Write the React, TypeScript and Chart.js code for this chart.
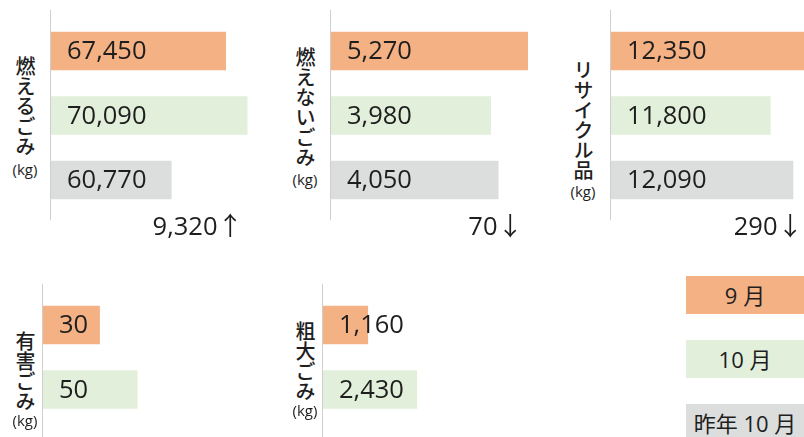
import React, { useEffect, useRef } from "react";
import { Chart, registerables } from "chart.js";

Chart.register(...registerables);

// ---------- data ----------
const seriesNames = ["9 月", "10 月", "昨年 10 月"];
const categoryNames = ["燃えるごみ", "燃えないごみ", "リサイクル品", "有害ごみ", "粗大ごみ"];
const unitLabel = "(kg)";
const septValues: (number | null)[] = [67450, 5270, 12350, 30, 1160];
const octValues: (number | null)[] = [70090, 3980, 11800, 50, 2430];
const lastOctValues: (number | null)[] = [60770, 4050, 12090, null, null];

// ---------- styles ----------
const seriesColors = ["#F4B183", "#E2EFDA", "#DCDDDD"];
const textColor = "#1e1e1e";
const axisColor = "#cfcfcf";
const numFont = "'Open Sans', 'Noto Sans CJK JP', sans-serif";
const jpFont = "'Noto Sans CJK JP', sans-serif";

type Panel = {
  left: number; top: number; width: number; height: number;
  min: number; max: number;
  labelX: number; labelTop: number; kgY: number;
};

const panels: Panel[] = [
  { left: 50, top: 0, width: 216, height: 245, min: 46000, max: 72400, labelX: 25, labelTop: 56, kgY: 169 },
  { left: 330, top: 0, width: 198, height: 245, min: 2510, max: 4324, labelX: 305, labelTop: 47, kgY: 179 },
  { left: 610, top: 0, width: 194, height: 245, min: 9765, max: 12230, labelX: 583, labelTop: 60, kgY: 191 },
  { left: 42, top: 274, width: 231, height: 245, min: 0, max: 122, labelX: 25, labelTop: 331, kgY: 420 },
  { left: 322, top: 274, width: 231, height: 245, min: 0, max: 5960, labelX: 305, labelTop: 321, kgY: 410 },
];

const fmt = (v: number) => v.toLocaleString("en-US");

const panelPlugin = {
  id: "panelDecor",
  beforeDatasetsDraw(chart: any) {
    const { ctx, chartArea } = chart;
    ctx.save();
    ctx.strokeStyle = axisColor;
    ctx.lineWidth = 1;
    ctx.beginPath();
    ctx.moveTo(chartArea.left - 0.5, chartArea.top - 9);
    ctx.lineTo(chartArea.left - 0.5, chartArea.bottom + 8);
    ctx.stroke();
    ctx.restore();
  },
  afterDatasetsDraw(chart: any) {
    const { ctx, chartArea } = chart;
    const meta = chart.getDatasetMeta(0);
    const values = chart.data.datasets[0].data;
    ctx.save();
    ctx.fillStyle = textColor;
    ctx.font = `25.5px ${numFont}`;
    ctx.textAlign = "left";
    ctx.textBaseline = "middle";
    meta.data.forEach((el: any, i: number) => {
      const v = values[i];
      if (v == null) return;
      ctx.fillText(fmt(v), chartArea.left + 16, el.y + 1);
    });
    const oct = values[1];
    const last = values[2];
    if (oct != null && last != null) {
      const diff = oct - last;
      const txt = fmt(Math.abs(diff)) + (diff >= 0 ? "↑" : "↓");
      ctx.textAlign = "right";
      ctx.fillText(txt, chartArea.left + 192, chartArea.bottom + 15);
    }
    ctx.restore();
  },
};

function PanelChart({ idx }: { idx: number }) {
  const ref = useRef<HTMLCanvasElement | null>(null);
  const p = panels[idx];
  useEffect(() => {
    if (!ref.current) return;
    const chart = new Chart(ref.current, {
      type: "bar",
      data: {
        labels: seriesNames,
        datasets: [
          {
            data: [septValues[idx], octValues[idx], lastOctValues[idx]],
            backgroundColor: seriesColors,
            barThickness: 38,
            borderWidth: 0,
          },
        ],
      },
      options: {
        indexAxis: "y",
        animation: false,
        responsive: false,
        maintainAspectRatio: false,
        layout: { padding: { top: 18.75, bottom: p.height - 212.25, left: 1, right: 0 } },
        scales: {
          x: { display: false, min: p.min, max: p.max },
          y: { display: false },
        },
        plugins: { legend: { display: false }, tooltip: { enabled: false } },
      },
      plugins: [panelPlugin],
    } as any);
    return () => chart.destroy();
  }, [idx]);
  return (
    <canvas
      ref={ref}
      width={p.width}
      height={p.height}
      style={{ position: "absolute", left: p.left, top: p.top, width: p.width, height: p.height, display: "block" }}
    />
  );
}

function VerticalLabel({ idx }: { idx: number }) {
  const p = panels[idx];
  return (
    <>
      <div
        style={{
          position: "absolute",
          left: p.labelX - 10,
          top: p.labelTop,
          width: 20,
          writingMode: "vertical-rl",
          fontFamily: jpFont,
          fontSize: 20,
          lineHeight: "20px",
          fontWeight: 500,
          color: textColor,
        }}
      >
        {categoryNames[idx]}
      </div>
      <div
        style={{
          position: "absolute",
          left: p.labelX - 20,
          top: p.kgY - 9,
          width: 40,
          textAlign: "center",
          fontFamily: numFont,
          fontSize: 15,
          lineHeight: "18px",
          color: textColor,
        }}
      >
        {unitLabel}
      </div>
    </>
  );
}

export default function App() {
  const legendTops = [276, 340, 404];
  return (
    <div
      style={{
        position: "fixed",
        left: 0,
        top: 0,
        width: 804,
        height: 437,
        overflow: "hidden",
        background: "#fff",
      }}
    >
      {panels.map((_, i) => (
        <PanelChart key={"c" + i} idx={i} />
      ))}
      {panels.map((_, i) => (
        <VerticalLabel key={"l" + i} idx={i} />
      ))}
      {seriesNames.map((name, i) => (
        <div
          key={"lg" + i}
          style={{
            position: "absolute",
            left: 686,
            top: legendTops[i],
            width: 118,
            height: 38,
            background: seriesColors[i],
            color: textColor,
            fontFamily: numFont,
            fontSize: 22,
            fontWeight: 400,
            lineHeight: "38px",
            textAlign: "center",
          }}
        >
          {name}
        </div>
      ))}
    </div>
  );
}
